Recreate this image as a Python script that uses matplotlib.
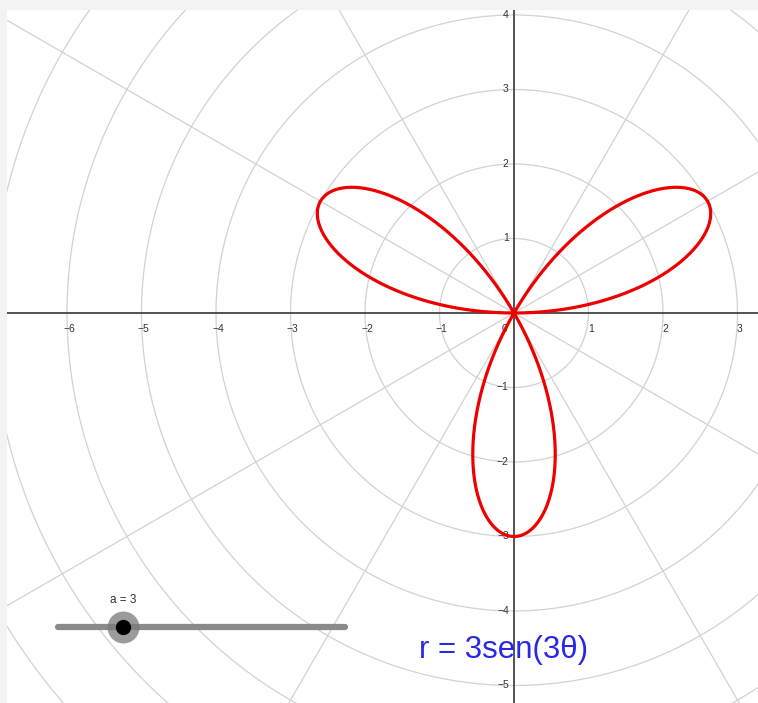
import numpy as np
import matplotlib
matplotlib.use("Agg")
import matplotlib.pyplot as plt

plt.rcParams['font.family'] = ['Liberation Sans', 'DejaVu Sans']

# Curve and slider values
a = 3
k = 3
slider_frac = 0.226          # knob position along the slider
equation = "r = 3sen(3\u03b8)"
slider_label = "a = 3"

# Axis ticks
xticks = [-6, -5, -4, -3, -2, -1, 1, 2, 3]
yticks = [4, 3, 2, 1, -1, -2, -3, -4, -5]
grid_radii = np.arange(1, 11)
grid_angles = np.arange(0, 180, 30)

# View window (data units)
XMin, XMax = -6.805, 3.275
YMin, YMax = -5.235, 4.067

fig = plt.figure(figsize=(7.58, 7.03), dpi=100, facecolor="#f3f3f3")
ax = fig.add_axes([7/758, 0, 751/758, 693/703])
ax.set_facecolor("white")
ax.set_xlim(XMin, XMax)
ax.set_ylim(YMin, YMax)
for s in ax.spines.values():
    s.set_visible(False)
ax.set_xticks([])
ax.set_yticks([])

# polar grid
t = np.linspace(0, 2*np.pi, 400)
for r in grid_radii:
    ax.plot(r*np.cos(t), r*np.sin(t), color="#d2d2d2", lw=0.9, zorder=1)
for ang in grid_angles:
    if ang in (0, 90):
        continue
    th = np.radians(ang)
    ax.plot([-15*np.cos(th), 15*np.cos(th)], [-15*np.sin(th), 15*np.sin(th)],
            color="#d2d2d2", lw=0.9, zorder=1)

# axes
ax.axhline(0, color="#444444", lw=1.3, zorder=2)
ax.axvline(0, color="#444444", lw=1.3, zorder=2)

for x in xticks:
    ax.text(x + 0.03, -0.21, "\u2212%d" % -x if x < 0 else "%d" % x,
            ha="center", va="center", fontsize=7.5, color="#333333", zorder=3)
for y in yticks:
    ax.text(-0.07, y, "\u2212%d" % -y if y < 0 else "%d" % y,
            ha="right", va="center", fontsize=7.5, color="#333333", zorder=3)
ax.text(-0.13, -0.21, "0", ha="center", va="center", fontsize=7.5, color="#333333", zorder=3)

# rose curve
th = np.linspace(0, np.pi, 1000)
r = a*np.sin(k*th)
ax.plot(r*np.cos(th), r*np.sin(th), color="#ee0000", lw=2.3, zorder=4,
        solid_joinstyle="round")

# slider
x0, x1, ys = 0.068, 0.450, 0.110
ax.plot([x0, x1], [ys, ys], transform=ax.transAxes, color="#8a8a8a", lw=4.5,
        solid_capstyle="round", zorder=5)
kx = x0 + slider_frac*(x1 - x0)
ax.plot([kx], [ys], transform=ax.transAxes, marker="o", ms=23,
        color="#7a7a7a", alpha=0.75, mec="none", zorder=6)
ax.plot([kx], [ys], transform=ax.transAxes, marker="o", ms=11,
        color="black", mec="none", zorder=7)
ax.text(kx, 0.149, slider_label, transform=ax.transAxes, ha="center", va="center",
        fontsize=8.5, color="#333333", zorder=7)

# equation label
ax.text(0.661, 0.076, equation, transform=ax.transAxes, ha="center", va="center",
        fontsize=22.5, color="#2828e6", zorder=7)

fig.savefig("out.png", dpi=100, facecolor=fig.get_facecolor())
